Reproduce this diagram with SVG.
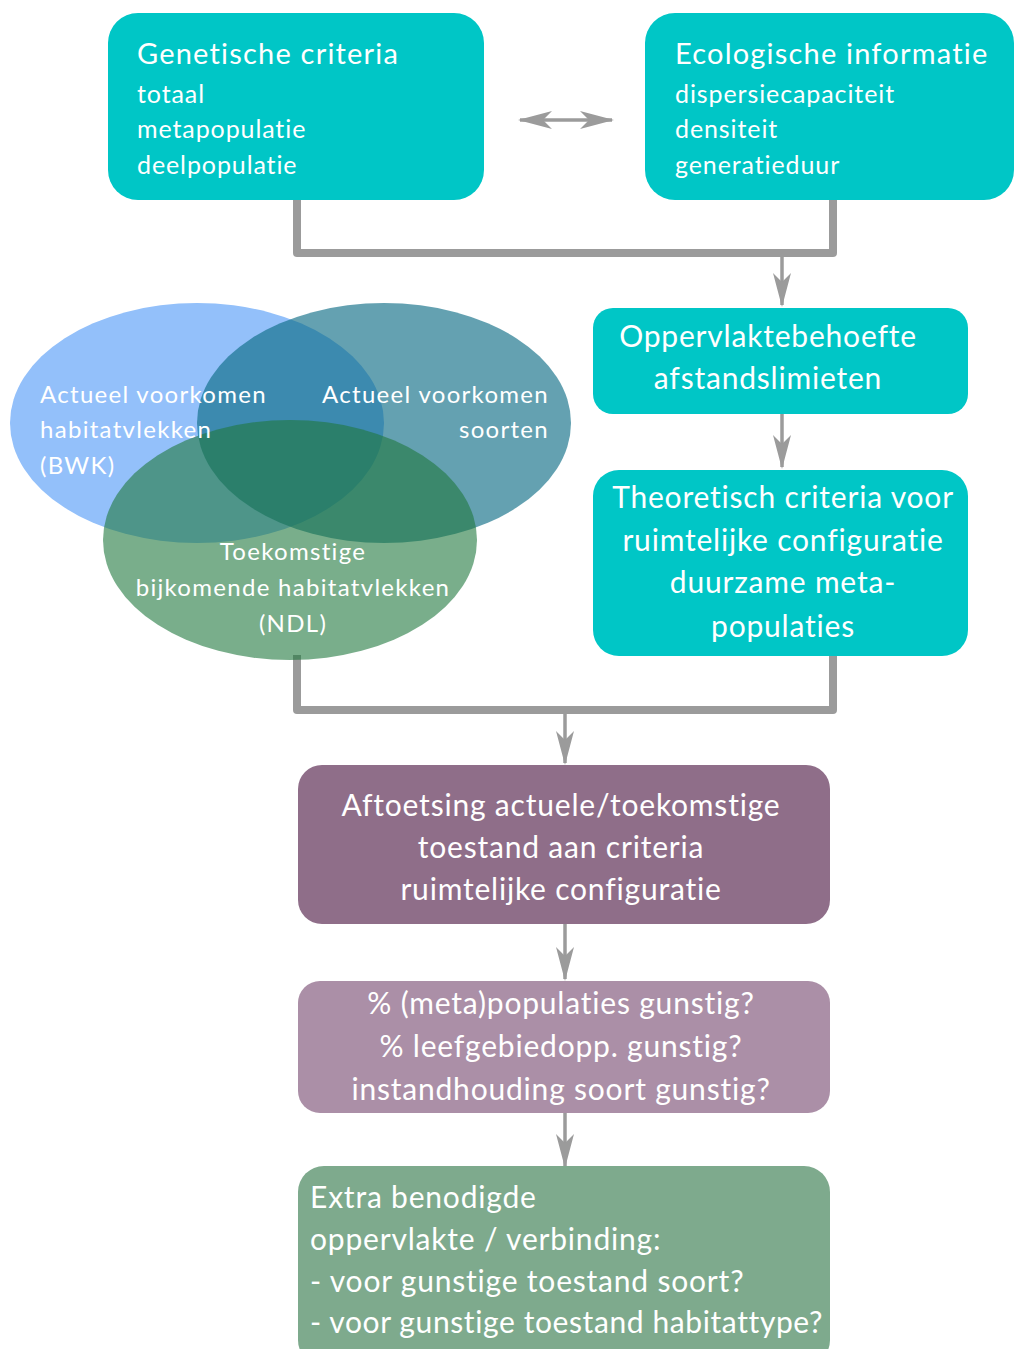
<svg xmlns="http://www.w3.org/2000/svg" width="1014" height="1349" viewBox="0 0 1014 1349">
<defs>
<style>
.t{font-family:Lato,"Liberation Sans",sans-serif;fill:#ffffff;font-variant-ligatures:none;letter-spacing:0.8px}
.h{font-size:29px;letter-spacing:1.2px}
.s{font-size:25px;letter-spacing:0.9px}
.v{font-size:24px;letter-spacing:1.3px}
.b{font-size:30px}
.cyan{fill:#00C6C6}
.conn{fill:none;stroke:#9B9B9B;stroke-width:8;stroke-linejoin:round}
.arr{fill:none;stroke:#9B9B9B;stroke-width:3.5}
</style>
<marker id="ah" viewBox="0 0 34 20" refX="32" refY="10" markerWidth="34" markerHeight="20" markerUnits="userSpaceOnUse" orient="auto-start-reverse">
<path d="M0,1 L34,10 L0,19 L9,10 Z" fill="#9B9B9B"/>
</marker>
</defs>
<rect width="1014" height="1349" fill="#ffffff"/>

<g id="connectors">
<polyline class="conn" points="297,200 297,253 833,253 833,200"/>
<line class="arr" x1="782" y1="253" x2="782" y2="305" marker-end="url(#ah)"/>
<line class="arr" x1="782" y1="414" x2="782" y2="467" marker-end="url(#ah)"/>
<polyline class="conn" points="297,655 297,710 833,710 833,656"/>
<line class="arr" x1="565" y1="710" x2="565" y2="763" marker-end="url(#ah)"/>
<line class="arr" x1="565" y1="924" x2="565" y2="979" marker-end="url(#ah)"/>
<line class="arr" x1="565" y1="1113" x2="565" y2="1166" marker-end="url(#ah)"/>
<line class="arr" x1="520" y1="120" x2="612" y2="120" stroke-width="4" marker-start="url(#ah)" marker-end="url(#ah)"/>
</g>

<g id="genetische">
<rect class="cyan" x="108" y="13" width="376" height="187" rx="30"/>
<text class="t h" x="137" y="64">Genetische criteria</text>
<text class="t s" x="137" y="103">totaal</text>
<text class="t s" x="137" y="138">metapopulatie</text>
<text class="t s" x="137" y="174">deelpopulatie</text>
</g>

<g id="ecologische">
<rect class="cyan" x="645" y="13" width="369" height="187" rx="30"/>
<text class="t h" x="675" y="64">Ecologische informatie</text>
<text class="t s" x="675" y="103">dispersiecapaciteit</text>
<text class="t s" x="675" y="138">densiteit</text>
<text class="t s" x="675" y="174">generatieduur</text>
</g>

<g id="venn">
<ellipse cx="197" cy="423" rx="187" ry="120" fill="#93C0FA"/>
<ellipse cx="384" cy="423" rx="187" ry="120" fill="#096A83" fill-opacity="0.63"/>
<ellipse cx="290" cy="540" rx="187" ry="120" fill="#20783E" fill-opacity="0.6"/>
<text class="t v" x="40" y="403">Actueel voorkomen</text>
<text class="t v" x="40" y="438">habitatvlekken</text>
<text class="t v" x="40" y="474">(BWK)</text>
<text class="t v" x="549" y="403" text-anchor="end">Actueel voorkomen</text>
<text class="t v" x="549" y="438" text-anchor="end">soorten</text>
<text class="t v" x="293" y="560" text-anchor="middle">Toekomstige</text>
<text class="t v" x="293" y="596" text-anchor="middle">bijkomende habitatvlekken</text>
<text class="t v" x="293" y="632" text-anchor="middle">(NDL)</text>
</g>

<g id="oppervlakte">
<rect class="cyan" x="593" y="308" width="375" height="106" rx="20"/>
<text class="t b" x="768" y="347" text-anchor="middle">Oppervlaktebehoefte</text>
<text class="t b" x="768" y="389" text-anchor="middle">afstandslimieten</text>
</g>

<g id="theoretisch">
<rect class="cyan" x="593" y="470" width="375" height="186" rx="26"/>
<text class="t b" x="783" y="508" text-anchor="middle">Theoretisch criteria voor</text>
<text class="t b" x="783" y="551" text-anchor="middle">ruimtelijke configuratie</text>
<text class="t b" x="783" y="593" text-anchor="middle">duurzame meta-</text>
<text class="t b" x="783" y="637" text-anchor="middle">populaties</text>
</g>

<g id="aftoetsing">
<rect x="298" y="765" width="532" height="159" rx="24" fill="#8F6E89"/>
<text class="t b" x="561" y="816" text-anchor="middle">Aftoetsing actuele/toekomstige</text>
<text class="t b" x="561" y="858" text-anchor="middle">toestand aan criteria</text>
<text class="t b" x="561" y="900" text-anchor="middle">ruimtelijke configuratie</text>
</g>

<g id="gunstig">
<rect x="298" y="981" width="532" height="132" rx="22" fill="#AB8FA7"/>
<text class="t b" x="561" y="1014" text-anchor="middle">% (meta)populaties gunstig?</text>
<text class="t b" x="561" y="1057" text-anchor="middle">% leefgebiedopp. gunstig?</text>
<text class="t b" x="561" y="1100" text-anchor="middle">instandhouding soort gunstig?</text>
</g>

<g id="extra">
<rect x="298" y="1166" width="532" height="200" rx="26" fill="#7EAA8D"/>
<text class="t b" x="310" y="1208">Extra benodigde</text>
<text class="t b" x="310" y="1250">oppervlakte / verbinding:</text>
<text class="t b" x="310" y="1292">- voor gunstige toestand soort?</text>
<text class="t b" x="310" y="1333" style="letter-spacing:0.6px">- voor gunstige toestand habitattype?</text>
</g>
</svg>
